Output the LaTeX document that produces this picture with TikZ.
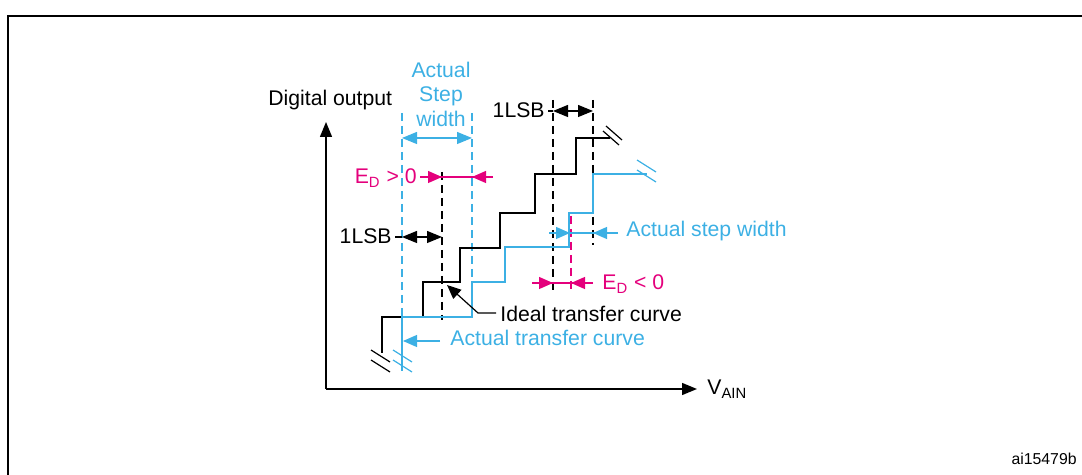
\documentclass[tikz,border=0pt]{standalone}
\usepackage{fontspec}
\setmainfont{Liberation Sans}
\usetikzlibrary{arrows.meta}
\definecolor{stblue}{RGB}{60,176,228}
\definecolor{stmag}{RGB}{228,0,124}
\begin{document}
\begin{tikzpicture}[x=0.5pt,y=-0.5pt,
  font=\fontsize{10.6}{12}\selectfont,
  lbl/.style={inner sep=0pt,anchor=base west},
  lblr/.style={inner sep=0pt,anchor=base east},
  ax/.style={line width=0.7pt,-{Triangle[length=7.5pt,width=6pt]}},
  dim/.style={line width=0.6pt,{Triangle[length=7.5pt,width=6pt]}-{Triangle[length=7.5pt,width=6pt]}},
  one/.style={line width=0.6pt,-{Triangle[length=7pt,width=6pt]}},
  thin/.style={line width=0.6pt},
  curve/.style={line width=0.75pt},
  bdash/.style={line width=0.6pt,dash pattern=on 4pt off 2.5pt},
  brk/.style={line width=0.6pt}
]
\useasboundingbox (0,0) rectangle (1082,475);
% frame
\draw[line width=1.3pt] (8,475) -- (8,16) -- (1082,16);
% axes
\coordinate (O) at (326,389);
\coordinate (ytip) at (326,122);
\coordinate (xtip) at (697,389);
\draw[ax] (O) -- (ytip);
\draw[ax] (O) -- (xtip);
\node[lbl] (dout) at (268,106) {Digital output};
\node[lbl] (vain) at (707,395) {V\textsubscript{AIN}};
% dashed guide lines
\draw[bdash] (442,172) -- (442,320);
\draw[bdash] (553,100) -- (553,290);
\draw[bdash] (593,100) -- (593,245);
\draw[bdash,stblue] (402,113) -- (402,317);
\draw[bdash,stblue] (472,113) -- (472,282);
\draw[bdash,stmag] (571,216) -- (571,290);
% ideal transfer curve
\coordinate (ib) at (382,353);
\coordinate (ie) at (610,138);
\draw[curve] (ib) -- (382,317) -- (423,317) -- (423,282) -- (460,282) -- (460,248)
  -- (500,248) -- (500,213) -- (535,213) -- (535,174) -- (576,174) -- (576,138) -- (ie);
% actual transfer curve
\coordinate (ab) at (402,371);
\coordinate (ae) at (647,174);
\draw[curve,stblue] (ab) -- (402,317) -- (472,317) -- (472,282) -- (505,282) -- (505,247)
  -- (569,247) -- (569,213) -- (593,213) -- (593,174) -- (ae);
% break marks
\draw[brk] (371,350) -- (390,362) (371,360) -- (390,372);
\draw[brk,stblue] (393,350) -- (412,362) (393,360) -- (412,372);
\draw[brk] (606,126) -- (622,140) (603,131) -- (619,145);
\draw[brk,stblue] (637,160) -- (656,172) (637,170) -- (656,182);
% Actual Step width (top, blue)
\node[inner sep=0pt,anchor=base,text=stblue] (act1) at (441,78) {Actual};
\node[inner sep=0pt,anchor=base,text=stblue] (act2) at (441,102) {Step};
\node[inner sep=0pt,anchor=base,text=stblue] (act3) at (441,127) {width};
\coordinate (asl) at (402,138);
\coordinate (asr) at (472,138);
\draw[dim,stblue] (asl) -- (asr);
% E_D > 0
\node[lblr,text=stmag] (edp) at (417,184) {E\textsubscript{D} > 0};
\coordinate (edp1) at (420,177);
\coordinate (edp2) at (442,177);
\coordinate (edp3) at (472,177);
\coordinate (edp4) at (493,177);
\draw[thin,stmag] (edp1) -- (edp4);
\draw[one,stmag] (edp1) -- (edp2);
\draw[one,stmag] (edp4) -- (edp3);
% 1LSB upper
\node[lblr] (lsbu) at (545,118) {1LSB};
\coordinate (lsbu0) at (548,111);
\coordinate (lsbu1) at (553,111);
\coordinate (lsbu2) at (593,111);
\draw[thin] (lsbu0) -- (lsbu1);
\draw[dim] (lsbu1) -- (lsbu2);
% 1LSB lower
\node[lblr] (lsbl) at (392,244) {1LSB};
\coordinate (lsbl0) at (395,237);
\coordinate (lsbl1) at (402,237);
\coordinate (lsbl2) at (442,237);
\draw[thin] (lsbl0) -- (lsbl1);
\draw[dim] (lsbl1) -- (lsbl2);
% Actual step width (right)
\node[lbl,text=stblue] (asw) at (626,237) {Actual step width};
\coordinate (asw1) at (549,233);
\coordinate (asw2) at (570,233);
\coordinate (asw3) at (593,233);
\coordinate (asw4) at (618,233);
\draw[thin,stblue] (asw1) -- (asw4);
\draw[one,stblue] (asw1) -- (asw2);
\draw[one,stblue] (asw4) -- (asw3);
% E_D < 0
\node[lbl,text=stmag] (edn) at (602,290) {E\textsubscript{D} < 0};
\coordinate (edn1) at (532,283);
\coordinate (edn2) at (553,283);
\coordinate (edn3) at (571,283);
\coordinate (edn4) at (593,283);
\draw[thin,stmag] (edn1) -- (edn4);
\draw[one,stmag] (edn1) -- (edn2);
\draw[one,stmag] (edn4) -- (edn3);
% Ideal transfer curve pointer
\node[lbl] (itc) at (500,322) {Ideal transfer curve};
\coordinate (itc1) at (496,313);
\coordinate (itc2) at (478,313);
\coordinate (itc3) at (447,285);
\draw[one] (itc1) -- (itc2) -- (itc3);
% Actual transfer curve pointer
\node[lbl,text=stblue] (atc) at (450,346) {Actual transfer curve};
\coordinate (atc1) at (440,341);
\coordinate (atc2) at (403,341);
\draw[one,stblue] (atc1) -- (atc2);
% figure id
\node[inner sep=0pt,anchor=base east,font=\fontsize{7.9}{9}\selectfont] (fid) at (1077,465) {ai15479b};
\end{tikzpicture}
\end{document}
